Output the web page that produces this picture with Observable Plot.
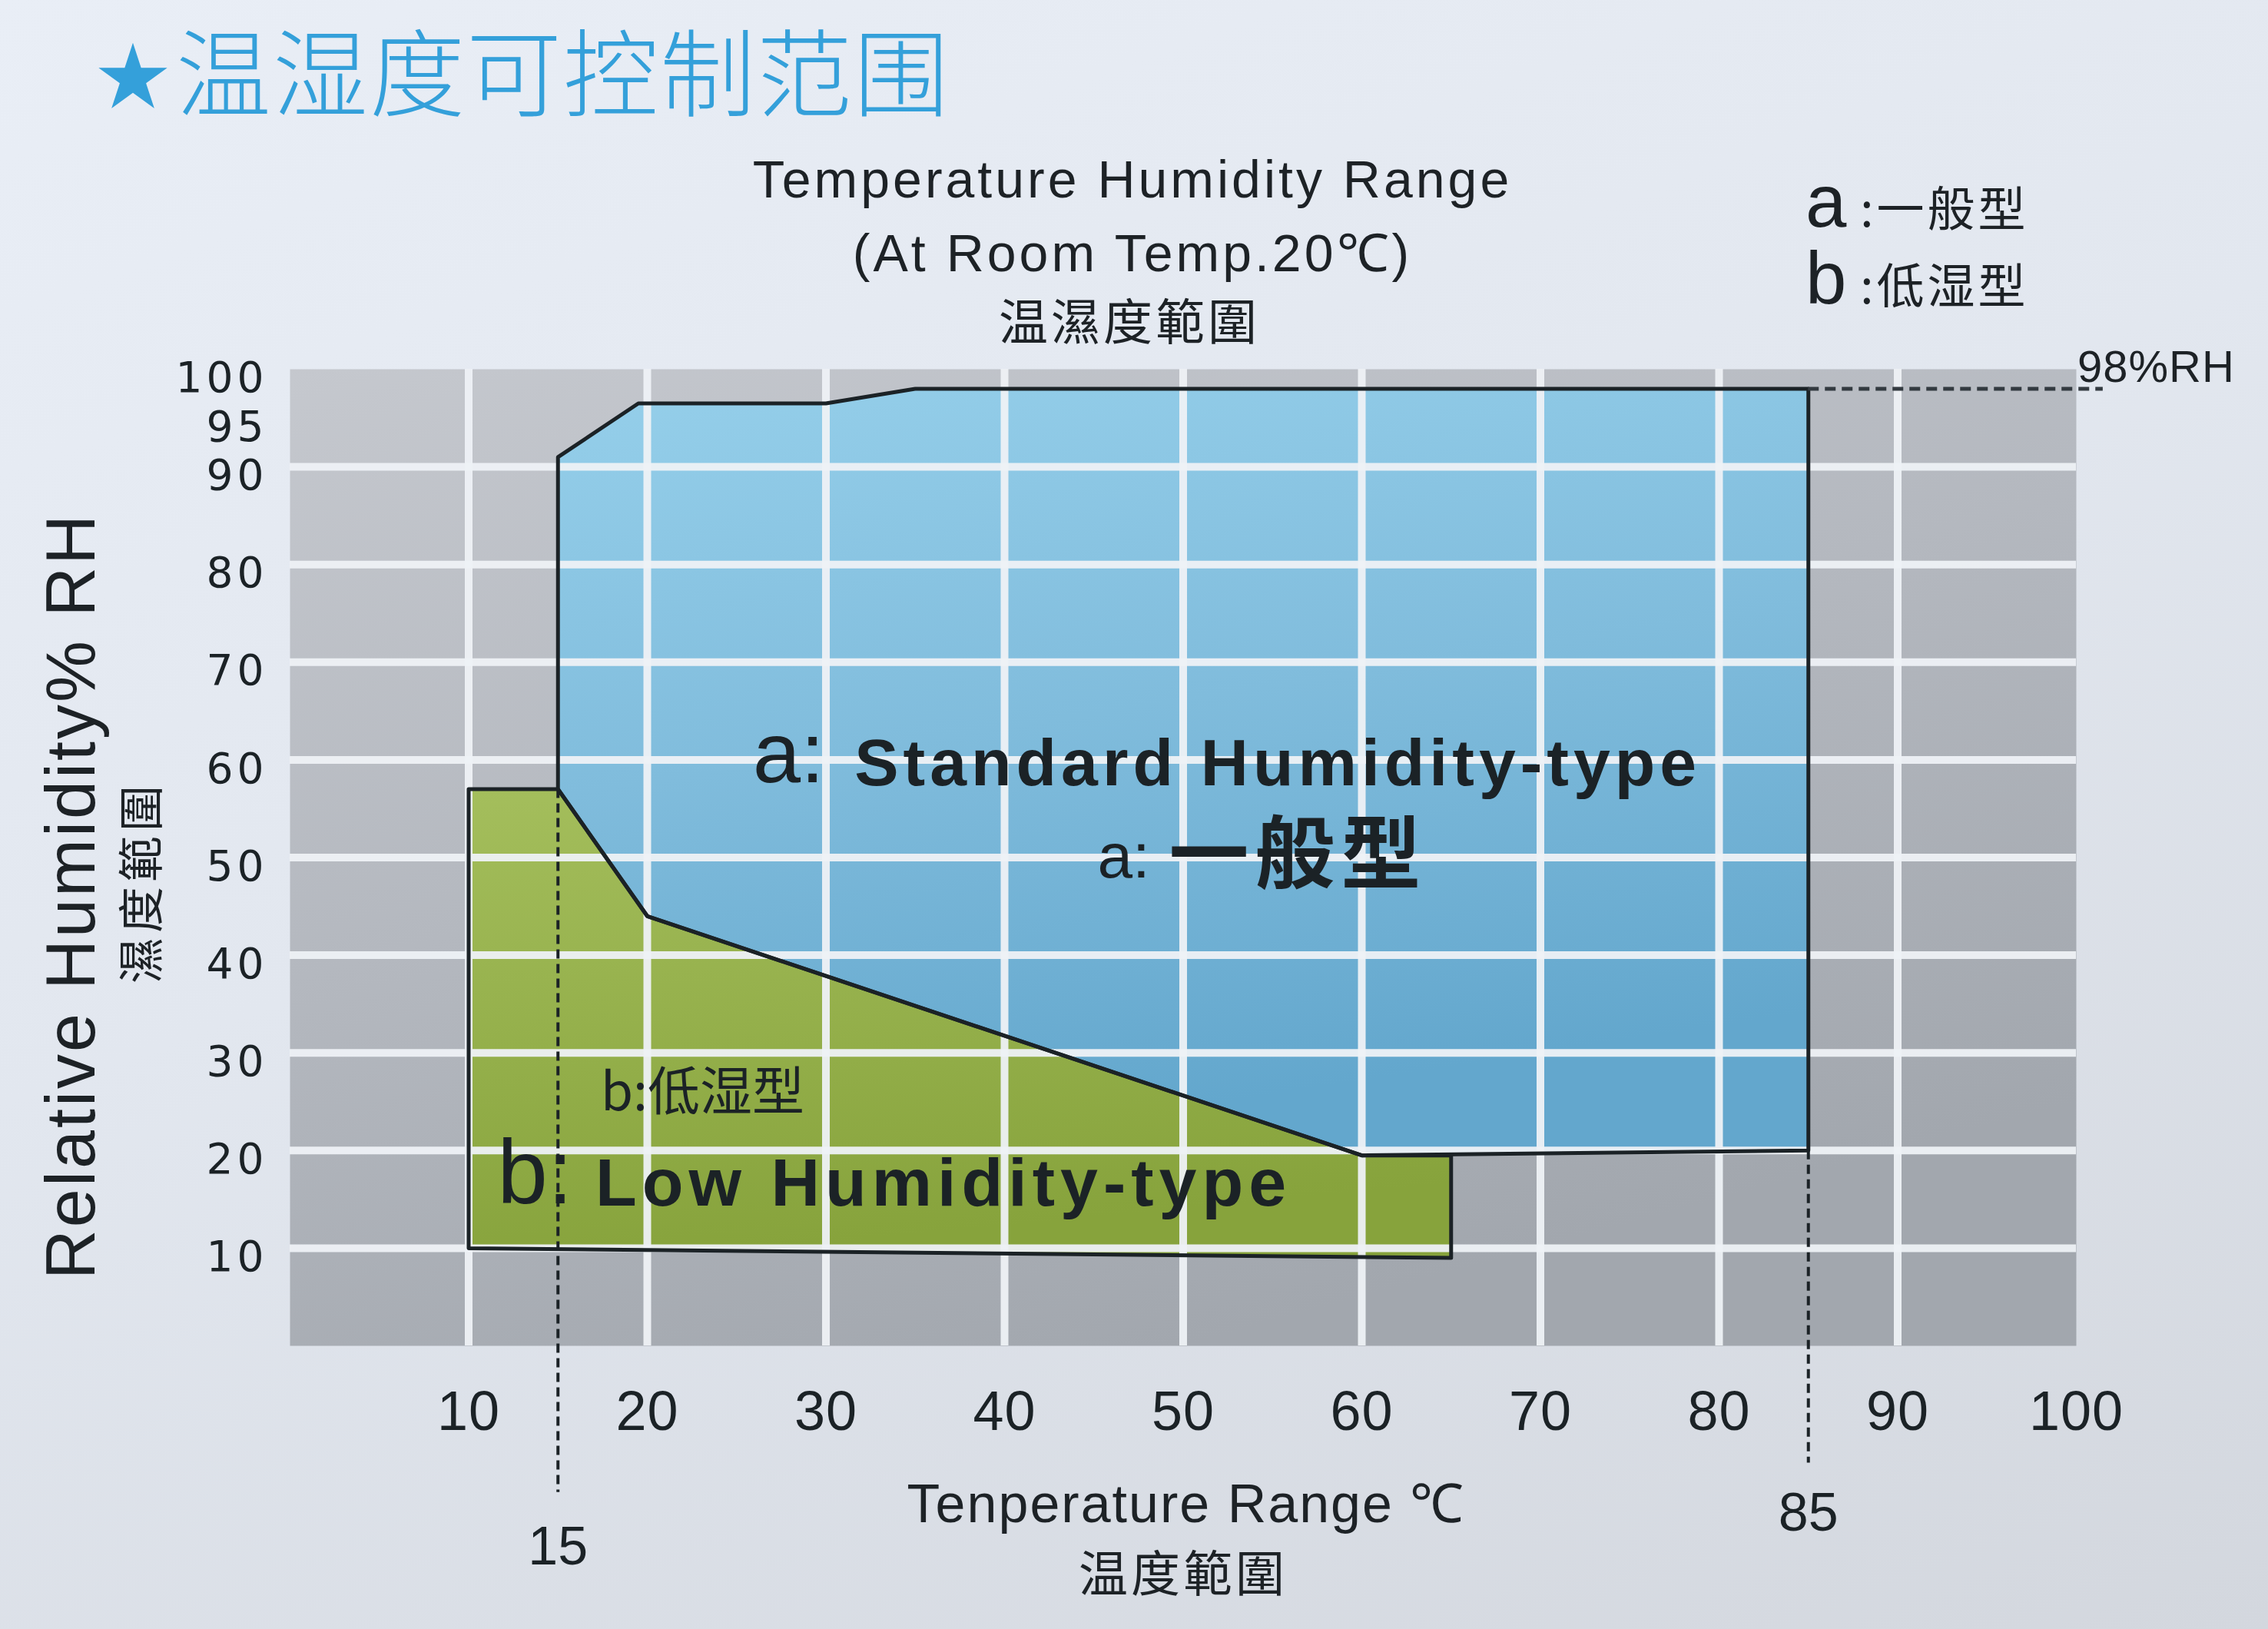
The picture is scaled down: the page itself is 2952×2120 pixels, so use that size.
<!DOCTYPE html>
<html><head><meta charset="utf-8">
<script src="https://cdn.jsdelivr.net/npm/d3@7"></script>
<script src="https://cdn.jsdelivr.net/npm/@observablehq/plot@0.6"></script>
<style>
html,body{margin:0;padding:0;}
body{width:2952px;height:2120px;overflow:hidden;position:relative;
 background:linear-gradient(160deg,#e9eef6 0%,#e2e7ef 45%,#d3d7de 100%);}
.t{position:absolute;white-space:nowrap;color:#1d2226;}
#title{left:125px;top:14px;font-family:"Noto Sans CJK SC";font-weight:300;font-size:124px;color:#34a0da;letter-spacing:2px;line-height:1.2;}
#title .star{font-size:96px;vertical-align:8px;margin-right:6px;}
.sub{font-family:"Liberation Sans";font-size:68px;letter-spacing:4px;transform:translate(-50%,-50%);}
.subcn{font-family:"Noto Sans CJK TC";font-size:64px;letter-spacing:4px;transform:translate(-50%,-50%);}
.leg{font-family:"Noto Sans CJK SC";font-size:62px;letter-spacing:4px;transform:translate(0,-50%);}
.leg .l{font-family:"Liberation Sans";font-size:96px;font-weight:300;letter-spacing:0;}
#ylab{left:92px;top:1166px;font-family:"Liberation Sans";font-size:90px;letter-spacing:3px;transform:translate(-50%,-50%) rotate(-90deg);}
#ylab2{left:179px;top:1148px;font-family:"Noto Sans CJK TC";font-size:60px;letter-spacing:6px;transform:translate(-50%,-50%) rotate(-90deg);}
#xlab{left:1544px;top:1954px;font-family:"Liberation Sans";font-size:70px;letter-spacing:2px;transform:translate(-50%,-50%);}
#xlab2{left:1540px;top:2043px;font-family:"Noto Sans CJK TC";font-size:64px;letter-spacing:4px;transform:translate(-50%,-50%);}
#rh{left:2704px;top:476px;font-family:"Liberation Sans";font-size:58px;letter-spacing:1px;transform:translate(0,-50%);}
#chart{position:absolute;left:0;top:400px;}
</style></head>
<body>
<div id="title" class="t"><span class="star">★</span>温湿度可控制范围</div>
<div class="t sub" style="left:1474px;top:233px">Temperature Humidity Range</div>
<div class="t sub" style="left:1474px;top:326px">(At Room Temp.20℃)</div>
<div class="t subcn" style="left:1470px;top:414px">温濕度範圍</div>
<div class="t leg" style="left:2350px;top:262px"><span class="l">a</span> :一般型</div>
<div class="t leg" style="left:2350px;top:362px"><span class="l">b</span> :低湿型</div>
<div id="ylab" class="t">Relative Humidity% RH</div>
<div id="ylab2" class="t">濕度範圍</div>
<div id="xlab" class="t">Tenperature Range ℃</div>
<div id="xlab2" class="t">温度範圍</div>
<div id="rh" class="t">98%RH</div>
<div id="chart"></div>
<script>
// ---- data ----
const xTicks = [10, 20, 30, 40, 50, 60, 70, 80, 90, 100];
const yTicks = [10, 20, 30, 40, 50, 60, 70, 80, 90, 95, 100];
const gridX = [10, 20, 30, 40, 50, 60, 70, 80, 90];
const gridY = [10, 20, 30, 40, 50, 60, 70, 80, 90];
// a: Standard Humidity-type region (temperature ℃, humidity %RH)
const standardT = [15, 19.5, 30, 35, 85, 85, 60, 20, 15];
const standardRH = [91, 96.5, 96.5, 98, 98, 20, 19.5, 44, 57];
// b: Low Humidity-type region
const lowT = [10, 15, 20, 60, 65, 65, 10];
const lowRH = [57, 57, 44, 19.5, 19.5, 9, 10];
// marker lines
const markT = [15, 85];
const markLabels = ["15", "85"];
const rhLimit = 98;

const standard = standardT.map((t, i) => ({t, rh: standardRH[i]}));
const low = lowT.map((t, i) => ({t, rh: lowRH[i]}));

const ink = "#1b2226";
const plot = Plot.plot({
  width: 2952, height: 1720,
  marginTop: 80, marginBottom: 369, marginLeft: 377, marginRight: 250,
  x: {domain: [0, 100]},
  y: {domain: [0, 100]},
  style: {background: "transparent", color: ink},
  marks: [
    Plot.frame({fill: "url(#gridGrad)", stroke: "none"}),
    Plot.line(low, {x: "t", y: "rh", curve: "linear-closed", fill: "url(#greenGrad)", stroke: "none"}),
    Plot.line(standard, {x: "t", y: "rh", curve: "linear-closed", fill: "url(#blueGrad)", stroke: "none"}),
    Plot.ruleX(gridX, {stroke: "#eef1f5", strokeWidth: 10, strokeOpacity: 0.95}),
    Plot.ruleY(gridY, {stroke: "#eef1f5", strokeWidth: 10, strokeOpacity: 0.95}),
    Plot.line(low, {x: "t", y: "rh", curve: "linear-closed", stroke: ink, strokeWidth: 5, strokeLinejoin: "round"}),
    Plot.line(standard, {x: "t", y: "rh", curve: "linear-closed", stroke: ink, strokeWidth: 5, strokeLinejoin: "round"}),
    Plot.ruleX([markT[0]], {y1: 57, y2: -15, stroke: ink, strokeWidth: 4, strokeDasharray: "12,7"}),
    Plot.ruleX([markT[1]], {y1: 20, y2: -12, stroke: ink, strokeWidth: 4, strokeDasharray: "12,7"}),
    Plot.ruleY([rhLimit], {x1: 85, x2: 101.5, stroke: "#333a40", strokeWidth: 5, strokeDasharray: "14,8"}),
    Plot.text([markLabels[0]], {x: markT[0], frameAnchor: "bottom", dy: 284, fontSize: 70, fontFamily: "Liberation Sans"}),
    Plot.text([markLabels[1]], {x: markT[1], frameAnchor: "bottom", dy: 240, fontSize: 70, fontFamily: "Liberation Sans"}),
    Plot.axisX({ticks: xTicks, tickSize: 0, tickPadding: 58, label: null, fontSize: 72, fontFamily: "Liberation Sans"}),
    Plot.axisY({ticks: yTicks, tickSize: 0, tickPadding: 29, label: null, fontSize: 55, fontFamily: "DejaVu Sans", dy: 12}),
    // in-chart labels
    Plot.text(["a:"], {x: 25.9, y: 60.5, textAnchor: "start", fontSize: 112, fontWeight: 300, fontFamily: "Liberation Sans"}),
    Plot.text(["Standard Humidity-type"], {x: 31.6, y: 59.6, textAnchor: "start", fontSize: 86, fontWeight: "bold", fontFamily: "Liberation Sans"}),
    Plot.text(["a:"], {x: 45.2, y: 50, textAnchor: "start", fontSize: 82, fontFamily: "Liberation Sans"}),
    Plot.text(["一般型"], {x: 49.2, y: 50, textAnchor: "start", fontSize: 104, fontWeight: "bold", fontFamily: "Noto Sans CJK SC"}),
    Plot.text(["b:低湿型"], {x: 17.4, y: 25.8, textAnchor: "start", fontSize: 68, fontFamily: "Noto Sans CJK SC"}),
    Plot.text(["b:"], {x: 11.6, y: 17.6, textAnchor: "start", fontSize: 118, fontWeight: 300, fontFamily: "Liberation Sans"}),
    Plot.text(["Low Humidity-type"], {x: 17.1, y: 16.6, textAnchor: "start", fontSize: 88, fontWeight: "bold", fontFamily: "Liberation Sans"})
  ]
});

const svg = d3.select(plot);
const defs = svg.insert("defs", ":first-child");
function grad(id, x2, y2, stops) {
  const g = defs.append("linearGradient").attr("id", id).attr("x1", 0).attr("y1", 0).attr("x2", x2).attr("y2", y2);
  stops.forEach(([o, c]) => g.append("stop").attr("offset", o).attr("stop-color", c));
}
grad("gridGrad", 0.5, 1, [[0, "#c5c8ce"], [0.5, "#b4b8bf"], [1, "#a2a7ae"]]);
grad("blueGrad", 0.25, 1, [[0, "#95cfea"], [0.5, "#80bcdc"], [1, "#63a7cd"]]);
grad("greenGrad", 0.2, 1, [[0, "#a4be5c"], [1, "#87a33c"]]);
svg.selectAll('g[aria-label="y-axis tick label"] text').attr("letter-spacing", 5);
svg.selectAll('g[aria-label="x-axis tick label"] text').attr("letter-spacing", 1);
// letter spacing of bold in-chart labels
svg.selectAll('g[aria-label="text"] text').each(function() {
  const s = this.textContent;
  if (s === "Standard Humidity-type") this.setAttribute("letter-spacing", 6);
  if (s === "Low Humidity-type") this.setAttribute("letter-spacing", 7);
  if (s === "一般型") this.setAttribute("letter-spacing", 8);
});
document.getElementById("chart").appendChild(plot);
</script>
</body></html>
